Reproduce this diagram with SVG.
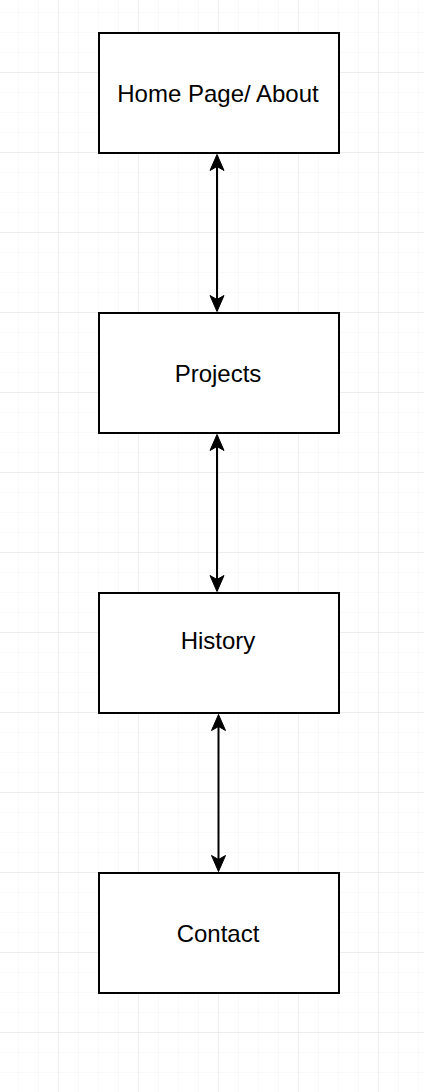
<svg xmlns="http://www.w3.org/2000/svg" width="424" height="1092" viewBox="0 0 424 1092">
<defs>
<pattern id="minor" x="18" y="12" width="20" height="20" patternUnits="userSpaceOnUse">
<path d="M0,0 H20 M0,0 V20" fill="none" stroke="#f3f3f3" stroke-width="1"/>
</pattern>
<pattern id="major" x="58" y="72" width="80" height="80" patternUnits="userSpaceOnUse">
<path d="M0,0 H80 M0,0 V80" fill="none" stroke="#e2e2e2" stroke-width="1"/>
</pattern>
</defs>
<style>
.box{fill:#fff;stroke:#000;stroke-width:2}
.lbl{font-family:"Liberation Sans",Arial,sans-serif;font-size:24px;fill:#000;text-anchor:middle}
.ln{stroke:#000;stroke-width:2;fill:none}
.ah{fill:#000;stroke:#000;stroke-width:1}
</style>
<rect width="424" height="1092" fill="#fff"/>
<rect width="424" height="1092" fill="url(#minor)"/>
<rect width="424" height="1092" fill="url(#major)"/>
<g id="connectors">
<line class="ln" x1="217" y1="166" x2="217" y2="300"/>
<path class="ah" d="M217,154.5 L224,170.5 L217,166.5 L210,170.5 Z"/>
<path class="ah" d="M217,311.5 L224,295.5 L217,299.5 L210,295.5 Z"/>
<line class="ln" x1="217" y1="446" x2="217" y2="580"/>
<path class="ah" d="M217,434.5 L224,450.5 L217,446.5 L210,450.5 Z"/>
<path class="ah" d="M217,591.5 L224,575.5 L217,579.5 L210,575.5 Z"/>
<line class="ln" x1="218.5" y1="726" x2="218.5" y2="860"/>
<path class="ah" d="M218.5,714.5 L225.5,730.5 L218.5,726.5 L211.5,730.5 Z"/>
<path class="ah" d="M218.5,871.5 L225.5,855.5 L218.5,859.5 L211.5,855.5 Z"/>
</g>
<g id="home">
<rect class="box" x="99" y="33" width="240" height="120"/>
<text class="lbl" x="218" y="102">Home Page/ About</text>
</g>
<g id="projects">
<rect class="box" x="99" y="313" width="240" height="120"/>
<text class="lbl" x="218" y="382">Projects</text>
</g>
<g id="history">
<rect class="box" x="99" y="593" width="240" height="120"/>
<text class="lbl" x="218" y="649">History</text>
</g>
<g id="contact">
<rect class="box" x="99" y="873" width="240" height="120"/>
<text class="lbl" x="218" y="942">Contact</text>
</g>
</svg>
